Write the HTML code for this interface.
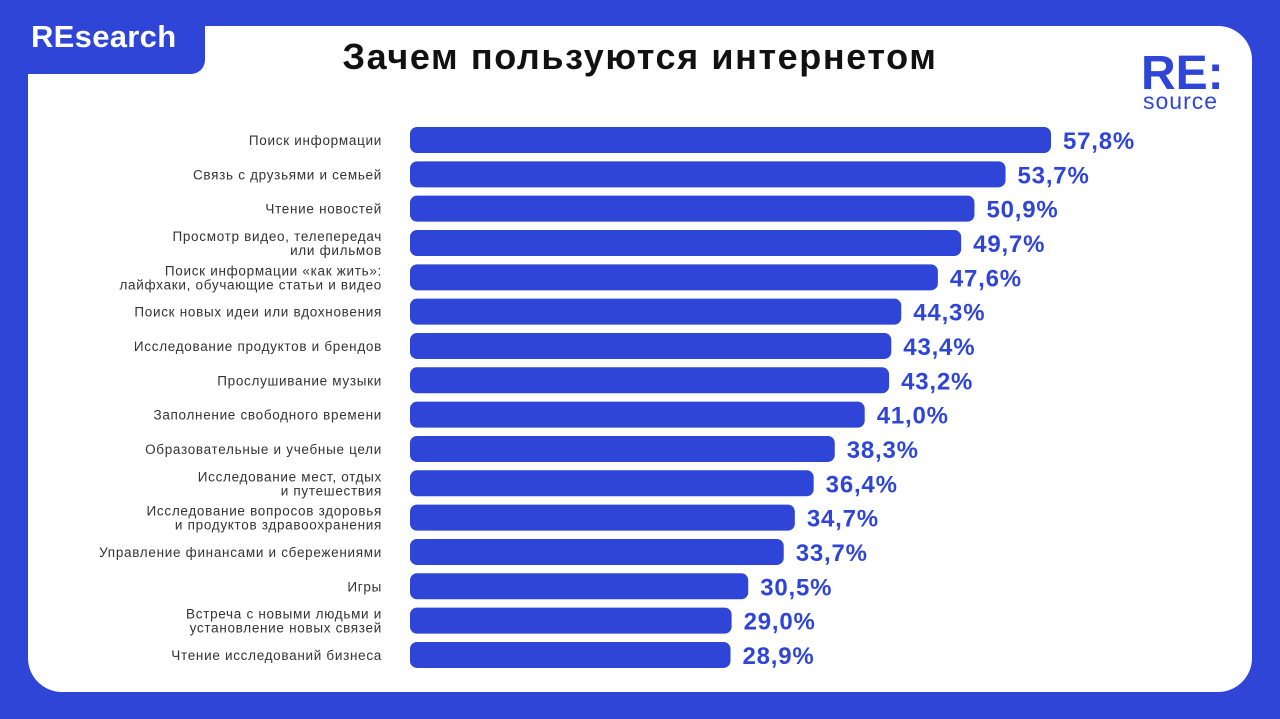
<!DOCTYPE html>
<html><head><meta charset="utf-8"><style>
body{margin:0;width:1280px;height:719px;background:#2e45d8;overflow:hidden;font-family:"Liberation Sans",sans-serif;position:relative}
#card{position:absolute;left:28px;top:26px;width:1224px;height:666px;background:#fff;border-radius:34px}
#tab{position:absolute;left:0;top:0;width:205px;height:74px;background:#2e45d8;border-bottom-right-radius:14px;color:#fff;font-size:31px;font-weight:bold;line-height:74px;text-indent:31px;letter-spacing:0.3px}
#title{position:absolute;left:0;width:1280px;top:36px;text-align:center;font-size:36px;font-weight:bold;color:#111;letter-spacing:1.6px}
#logo1{position:absolute;left:1141px;top:46px;font-size:48px;font-weight:bold;color:#2e45d8;letter-spacing:0px}
#logo2{position:absolute;left:1143px;top:88px;font-size:23px;color:#2e45d8;letter-spacing:1px}
svg{position:absolute;left:0;top:0}
</style></head><body>
<div id="card"></div>
<div id="tab">REsearch</div>
<div id="title">Зачем пользуются интернетом</div>
<div id="logo1">RE:</div>
<div id="logo2">source</div>
<svg id="chart" width="1280" height="719"></svg>
<script>
const categories=[["Поиск информации"],["Связь с друзьями и семьей"],["Чтение новостей"],["Просмотр видео, телепередач","или фильмов"],["Поиск информации «как жить»:","лайфхаки, обучающие статьи и видео"],["Поиск новых идеи или вдохновения"],["Исследование продуктов и брендов"],["Прослушивание музыки"],["Заполнение свободного времени"],["Образовательные и учебные цели"],["Исследование мест, отдых","и путешествия"],["Исследование вопросов здоровья","и продуктов здравоохранения"],["Управление финансами и сбережениями"],["Игры"],["Встреча с новыми людьми и","установление новых связей"],["Чтение исследований бизнеса"]];
const values=[57.8,53.7,50.9,49.7,47.6,44.3,43.4,43.2,41.0,38.3,36.4,34.7,33.7,30.5,29.0,28.9];
const labels=["57,8%","53,7%","50,9%","49,7%","47,6%","44,3%","43,4%","43,2%","41,0%","38,3%","36,4%","34,7%","33,7%","30,5%","29,0%","28,9%"];
const svg=document.getElementById('chart');const NS="http://www.w3.org/2000/svg";
const x0=410,k=11.09;
const xScale=v=>x0+v*k;
const yScale=i=>140+i*34.33;
values.forEach((v,i)=>{
 const cy=yScale(i);
 const r=document.createElementNS(NS,'rect');
 r.setAttribute('x',x0);r.setAttribute('y',cy-13);r.setAttribute('width',xScale(v)-x0);r.setAttribute('height',26);r.setAttribute('rx',7);r.setAttribute('fill','#2e45d8');
 
 
 svg.appendChild(r);
 const t=document.createElementNS(NS,'text');
 t.setAttribute('x',xScale(v)+12);t.setAttribute('y',cy+9);t.setAttribute('font-size','24');t.setAttribute('font-weight','bold');t.setAttribute('fill','#2e45d8');t.setAttribute('letter-spacing','0.8');
 t.textContent=labels[i];
 
 
 svg.appendChild(t);
 const lines=categories[i];
 lines.forEach((s,j)=>{
  const c=document.createElementNS(NS,'text');
  c.setAttribute('x',382);c.setAttribute('text-anchor','end');
  c.setAttribute('y',cy+5+(lines.length>1?(j-0.5)*14:0));
  c.setAttribute('font-size','13.5');c.setAttribute('fill','#333');c.setAttribute('letter-spacing','0.7');
  c.textContent=s;
  
  
  svg.appendChild(c);
 });
});
</script>
</body></html>
